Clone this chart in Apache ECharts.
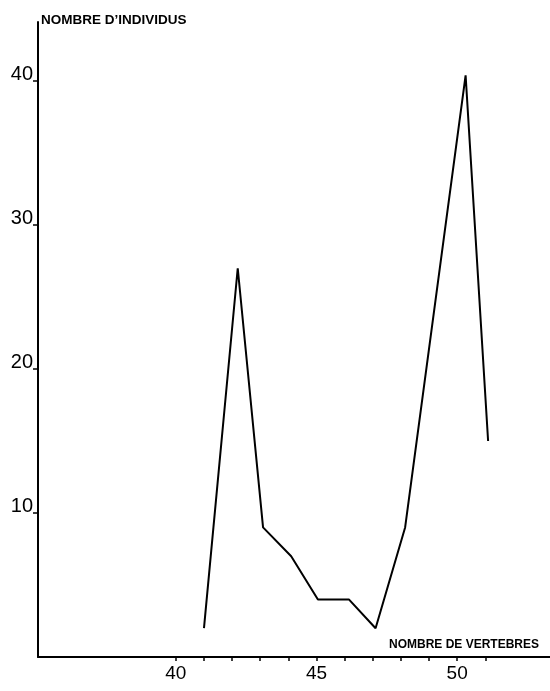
<!DOCTYPE html>
<html><head><meta charset="utf-8">
<script src="https://cdn.jsdelivr.net/npm/echarts@6/dist/echarts.min.js"></script>
<style>html,body{margin:0;padding:0;background:#fff}#c{width:550px;height:691px}</style>
</head><body><div id="c"></div>
<script>
const vertebres = [41, 42.2, 43.1, 44.1, 45.05, 46.15, 47.1, 48.15, 50.3, 51.1];
const individus = [2, 27, 9, 7, 4, 4, 2, 9, 40.4, 15];
const xTicks = [40, 41, 42, 43, 44, 45, 46, 47, 48, 49, 50, 51];
const xLabels = [40, 45, 50];
const yTicks = [10, 20, 30, 40];
const xTitle = 'NOMBRE DE VERTEBRES';
const yTitle = 'NOMBRE D\u2019INDIVIDUS';

const chart = echarts.init(document.getElementById('c'), null, {renderer: 'canvas'});
const font = '"Liberation Sans Narrow", "Liberation Sans", Arial, sans-serif';
chart.setOption({
  animation: false,
  backgroundColor: '#fff',
  grid: {left: 38, right: 0, top: 22, bottom: 34, containLabel: false},
  xAxis: {
    type: 'value', min: 35.1, max: 53.3,
    splitLine: {show: false},
    axisLine: {lineStyle: {color: '#000', width: 2}},
    axisTick: {show: true, length: 4, customValues: xTicks, lineStyle: {color: '#000', width: 1.5}},
    axisLabel: {customValues: xLabels, color: '#000', fontSize: 19, fontFamily: font, margin: 7}
  },
  yAxis: {
    type: 'value', min: 0, max: 44.1,
    splitLine: {show: false},
    axisLine: {lineStyle: {color: '#000', width: 2}},
    axisTick: {show: true, length: 5, customValues: yTicks, lineStyle: {color: '#000', width: 1.5}},
    axisLabel: {customValues: yTicks, color: '#000', fontSize: 20, fontFamily: font, margin: 5,
                verticalAlign: 'bottom', lineHeight: 13}
  },
  graphic: [
    {type: 'text', left: 41, top: 13, style: {text: yTitle, fill: '#000', font: 'bold 13.5px "Liberation Sans", Arial, sans-serif'}},
    {type: 'text', left: 389, top: 639, style: {text: xTitle, fill: '#000', font: 'bold 12px "Liberation Sans", Arial, sans-serif'}}
  ],
  series: [{
    type: 'line',
    data: vertebres.map((v, i) => [v, individus[i]]),
    symbol: 'none',
    lineStyle: {color: '#000', width: 2},
    z: 3
  }]
});
</script></body></html>
